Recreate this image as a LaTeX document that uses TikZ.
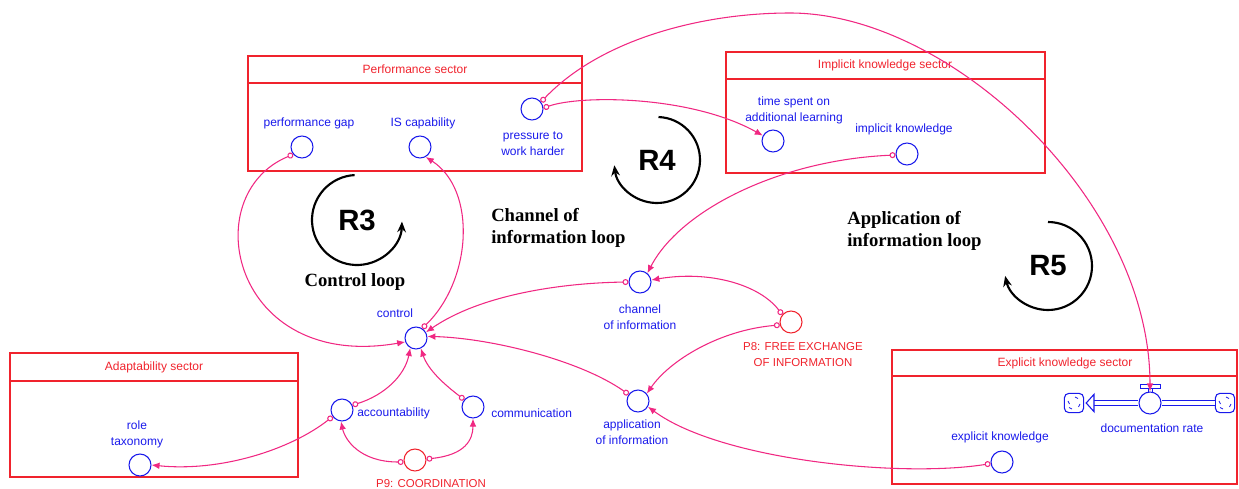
\documentclass[tikz,border=0pt]{standalone}
\usepackage{fontspec}
\setmainfont{Liberation Serif}
\newfontfamily\sansfam{Liberation Sans}
\usetikzlibrary{arrows.meta}
\definecolor{vblue}{RGB}{25,25,235}
\definecolor{vred}{RGB}{240,35,45}
\definecolor{lpink}{RGB}{240,40,130}

\begin{document}
\begin{tikzpicture}[x=0.75pt,y=-0.75pt,
  var/.style={circle,draw=vblue,line width=0.8pt,minimum size=16.5pt,inner sep=0pt},
  pvar/.style={var,draw=vred},
  lbl/.style={font=\sansfam\fontsize{9}{12}\selectfont,text=vblue,align=center,inner sep=0pt},
  plbl/.style={font=\sansfam\fontsize{8.6}{12}\selectfont,text=vred,align=center,inner sep=0pt},
  sectitle/.style={font=\sansfam\fontsize{9}{11}\selectfont,text=vred,inner sep=0pt},
  sector/.style={draw=vred,line width=1pt},
  link/.style={draw=lpink,line width=0.8pt,{Circle[open,length=4.5pt,width=4.5pt]}-{Latex[length=6pt,width=5pt]}},
  loopname/.style={font=\sansfam\bfseries\fontsize{22}{24}\selectfont,inner sep=0pt},
  loopdesc/.style={font=\bfseries\fontsize{14}{16.5}\selectfont,align=left,inner sep=0pt},
  looparc/.style={line width=1.6pt,-{Stealth[length=8pt,width=6.5pt]}},
  pipe/.style={draw=vblue,double=white,double distance=2.8pt,line width=0.7pt},
  cloudbox/.style={draw=vblue,line width=0.8pt,rounded corners=3.5pt,minimum size=14.5pt,inner sep=0pt},
]
\useasboundingbox (0,0) rectangle (1239,489);

% ---------- sectors ----------
\draw[sector] (248,56) rectangle (582,171);
\draw[sector] (248,83) -- (582,83);
\node[sectitle] (perftitle) at (415,69) {Performance sector};

\draw[sector] (726,52) rectangle (1045,173);
\draw[sector] (726,79) -- (1045,79);
\node[sectitle] (impltitle) at (885,65) {Implicit knowledge sector};

\draw[sector] (10,353) rectangle (298,477);
\draw[sector] (10,381) -- (298,381);
\node[sectitle] (adaptitle) at (154,367) {Adaptability sector};

\draw[sector] (892,350) rectangle (1237,484);
\draw[sector] (892,376) -- (1237,376);
\node[sectitle] (expltitle) at (1065,363) {Explicit knowledge sector};

% ---------- loop markers ----------
\node[loopname] (r3) at (357,220) {R3};
\draw[looparc] (r3.center) ++(93:33.75pt) arc[start angle=93,end angle=358,radius=33.75pt];
\node[loopname] (r4) at (657,160) {R4};
\draw[looparc] (r4.center) ++(88:32.25pt) arc[start angle=88,end angle=-173,radius=32.25pt];
\node[loopname] (r5) at (1048,266) {R5};
\draw[looparc] (r5.center) ++(90:33pt) arc[start angle=90,end angle=-167,radius=33pt];

\node[loopdesc] (ctrldesc) at (355,282) {Control loop};
\node[loopdesc,anchor=west] (chdesc) at (491,228) {Channel of\\information loop};
\node[loopdesc,anchor=west] (apdesc) at (847,231) {Application of\\information loop};

% ---------- variables ----------
\node[var] (perfgap) at (302,147) {};
\node[lbl] at (309,123) {performance gap};
\node[var] (iscap) at (420,147) {};
\node[lbl] at (423,123) {IS capability};
\node[var] (pressure) at (532,109) {};
\node[lbl] at (533,144) {pressure to\\work harder};

\node[var] (timespent) at (773,141) {};
\node[lbl] at (794,110) {time spent on\\additional learning};
\node[var] (implicit) at (907,154) {};
\node[lbl] at (904,129) {implicit knowledge};

\node[var] (control) at (416,338) {};
\node[lbl] at (395,313) {control};
\node[var] (account) at (342,410) {};
\node[lbl,anchor=west] at (357,413) {accountability};
\node[var] (commun) at (473,407) {};
\node[lbl,anchor=west] at (491,413) {communication};
\node[pvar] (p9) at (415,460) {};
\node[plbl] at (431,484) {P9: COORDINATION};

\node[var] (channel) at (640,282) {};
\node[lbl] at (640,317) {channel\\of information};
\node[pvar] (p8) at (791,322) {};
\node[plbl] at (803,355) {P8: FREE EXCHANGE\\OF INFORMATION};
\node[var] (appl) at (638,401) {};
\node[lbl] at (632,432) {application\\of information};

\node[var] (role) at (140,465) {};
\node[lbl] at (137,434) {role\\taxonomy};

\node[var] (explicit) at (1002,462) {};
\node[lbl] at (1000,437) {explicit knowledge};

% ---------- documentation flow ----------
\node[var] (docrate) at (1150,403) {};
\node[lbl] at (1152,428) {documentation rate};
\node[cloudbox] (cloudL) at (1074,403) {};
\node[cloudbox] (cloudR) at (1225,403) {};
\foreach \c in {cloudL,cloudR}{
  \draw[vblue,line width=0.6pt]
    ([shift={(-6,-2)}]\c.center) -- ++(1.5,3)
    ([shift={(1,-6)}]\c.center) -- ++(3,1.5)
    ([shift={(6,1)}]\c.center) -- ++(-1.5,3)
    ([shift={(-2,6)}]\c.center) -- ++(-3,-1.5);
}
\coordinate (tribase) at (1094,403);
\draw[pipe] (cloudR.west) -- (docrate.east);
\draw[pipe] (docrate.west) -- (tribase);
\draw[vblue,line width=0.8pt,fill=white]
  ([yshift=6.5pt]tribase) -- ([xshift=1.5pt]cloudL.east) -- ([yshift=-6.5pt]tribase) -- cycle;
\draw[vblue,line width=0.7pt,fill=white] (1140,384) rectangle (1160,388);
\draw[vblue,line width=0.7pt] (1148,388) -- (1148,392.5) (1152,388) -- (1152,392.5);

% ---------- causal links ----------
\draw[link] (perfgap.220) .. controls (195,195) and (232,372) .. (control.200);
\draw[link] (control.57) .. controls (472,280) and (477,190) .. (iscap.300);
\draw[link] (channel.180) .. controls (560,283) and (480,295) .. (control.30);
\draw[link] (appl.145) .. controls (580,360) and (490,338) .. (control.8);
\draw[link] (account.25) .. controls (385,395) and (405,375) .. (control.240);
\draw[link] (commun.140) .. controls (445,385) and (428,370) .. (control.295);
\draw[link] (p9.190) .. controls (360,462) and (345,440) .. (account.265);
\draw[link] (p9.5) .. controls (465,455) and (473,440) .. (commun.270);
\draw[link] (account.215) .. controls (290,450) and (220,472) .. (role.0);
\draw[link] (implicit.185) .. controls (780,160) and (680,210) .. (channel.50);
\draw[link] (p8.140) .. controls (760,285) and (710,270) .. (channel.10);
\draw[link] (p8.195) .. controls (720,330) and (670,360) .. (appl.40);
\draw[link] (explicit.188) .. controls (900,478) and (720,460) .. (appl.330);
\draw[link] (pressure.5) .. controls (580,95) and (690,95) .. (timespent.152);
\draw[link] (pressure.38) .. controls (600,40) and (700,13) .. (790,13)
  .. controls (950,13) and (1150,200) .. (docrate.north);

\end{tikzpicture}
\end{document}
